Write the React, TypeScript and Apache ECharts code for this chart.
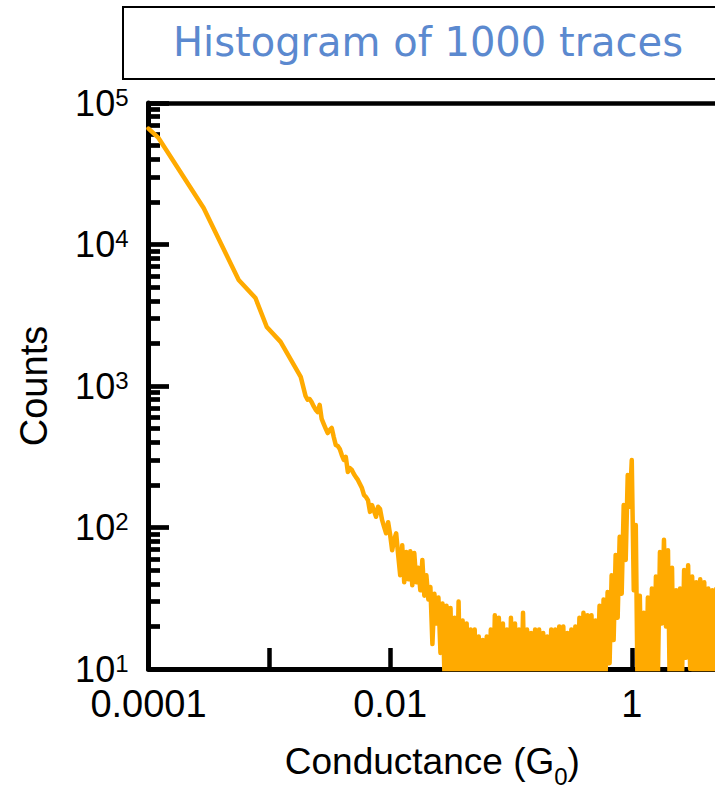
import React, { useEffect, useRef } from 'react';
import * as echarts from 'echarts';

// Smooth high-count part of the conductance histogram (G in units of G0)
const smoothConductance = [1.0e-4, 1.21e-4, 2.86e-4, 5.58e-4, 7.68e-4, 9.53e-4, 1.24e-3, 1.82e-3];
const smoothCounts = [66000, 56600, 18100, 5610, 4190, 2610, 2050, 1160];

// Log-binned part of the histogram: bin i sits at 10^(binStartLog + i / binsPerDecade)
const binStartLog = -2.7;
const binsPerDecade = 60;
const binCounts = [
  850, 800, 810, 770, 720, 680, 655, 735, 585, 540,
  500, 465, 490, 505, 436, 383, 377, 359, 325, 300,
  315, 247, 263, 255, 239, 227, 217, 203, 190, 170,
  164, 156, 129, 144, 131, 119, 140, 135, 113, 101,
  91, 109, 89, 69, 82, 91, 64, 46, 75, 41,
  67, 43, 68, 39, 66, 41, 52, 36, 59, 33,
  46, 31, 38, 15, 34, 21, 32, 13, 29, 9,
  28, 9, 27, 5, 23, 5, 30, 5, 22, 5,
  21, 5, 19, 5, 19, 5, 17, 5, 16, 5,
  17, 5, 19, 5, 24, 5, 23, 5, 21, 5,
  19, 5, 23, 5, 21, 5, 19, 5, 25, 5,
  19, 5, 18, 5, 19, 5, 19, 5, 18, 5,
  17, 5, 19, 5, 19, 5, 20, 5, 20, 5,
  18, 5, 19, 5, 20, 5, 23, 5, 25, 5,
  24, 5, 24, 5, 22, 9, 28, 9, 31, 9,
  35, 11, 46, 16, 64, 23, 86, 34, 144, 59,
  235, 140, 300, 36, 104, 5, 33, 5, 25, 5,
  32, 5, 37, 5, 45, 9, 67, 21, 82, 20,
  69, 5, 52, 5, 36, 5, 37, 9, 50, 12,
  54, 10, 45, 5, 41, 5, 43, 5, 41, 5,
  37, 5, 36, 5, 37, 5, 35, 5,
];

// Axis ranges and tick texts
const xMin = 1e-4;
const xMax = 5;
const yMin = 10;
const yMax = 1e5;
const xLabelDecades = [-4, -2, 0];
const xLabelTexts = ['0.0001', '0.01', '1'];
const yMinorTicks = [
  20, 30, 40, 50, 60, 70, 80, 90,
  200, 300, 400, 500, 600, 700, 800, 900,
  2000, 3000, 4000, 5000, 6000, 7000, 8000, 9000,
  20000, 30000, 40000, 50000, 60000, 70000, 80000, 90000,
];

const titleText = 'Histogram of 1000 traces';
const FONT = '"Liberation Sans", Arial, Helvetica, sans-serif';

export default function App() {
  const ref = useRef<HTMLDivElement>(null);

  useEffect(() => {
    if (!ref.current) return;
    const chart = echarts.init(ref.current, null, { renderer: 'svg' });

    const data: number[][] = [];
    smoothConductance.forEach((g, i) => data.push([g, smoothCounts[i]]));
    binCounts.forEach((c, i) => data.push([Math.pow(10, binStartLog + i / binsPerDecade), c]));

    const option: any = {
      animation: false,
      backgroundColor: '#ffffff',
      graphic: [
        {
          type: 'rect',
          shape: { x: 123, y: 7, width: 610, height: 72 },
          style: { fill: '#ffffff', stroke: '#000000', lineWidth: 2 },
          z: 10,
        },
        {
          type: 'text',
          x: 428,
          y: 42,
          style: {
            text: titleText,
            font: '40px "DejaVu Sans", sans-serif',
            fill: '#5b89cf',
            align: 'center',
            verticalAlign: 'middle',
          },
          z: 11,
        },
      ],
      grid: {
        left: 148.5,
        top: 103,
        width: 567.7,
        height: 566,
        show: false,
        containLabel: false,
        outerBoundsMode: 'none',
      },
      xAxis: [
        {
          type: 'log',
          logBase: 10,
          min: xMin,
          max: xMax,
          position: 'bottom',
          axisLine: { show: true, onZero: false, lineStyle: { color: '#000', width: 5 } },
          axisTick: { show: true, inside: true, length: 21, lineStyle: { color: '#000', width: 4.5 } },
          minorTick: { show: false },
          splitLine: { show: false },
          axisLabel: {
            color: '#000',
            fontFamily: FONT,
            fontSize: 38,
            lineHeight: 20,
            margin: 25,
            formatter: (v: number) => {
              const e = Math.log10(v);
              const r = Math.round(e);
              if (Math.abs(e - r) > 1e-6) return '';
              const k = xLabelDecades.indexOf(r);
              return k >= 0 ? xLabelTexts[k] : '';
            },
          },
          name: '{n|Conductance (G}{s|0}{n|)}',
          nameLocation: 'middle',
          nameGap: 74,
          nameMoveOverlap: false,
          nameTextStyle: {
            color: '#000',
            fontFamily: FONT,
            fontSize: 37,
            rich: {
              n: { fontFamily: FONT, fontSize: 37, lineHeight: 37, color: '#000', verticalAlign: 'top' },
              s: { fontFamily: FONT, fontSize: 24, lineHeight: 24, color: '#000', verticalAlign: 'top', padding: [21, 0, 0, 0] },
            },
          },
        },
        {
          type: 'log',
          logBase: 10,
          min: xMin,
          max: xMax,
          position: 'top',
          axisLine: { show: true, onZero: false, lineStyle: { color: '#000', width: 4.7 } },
          axisTick: { show: false },
          axisLabel: { show: false },
          splitLine: { show: false },
        },
      ],
      yAxis: [
        {
          type: 'log',
          logBase: 10,
          min: yMin,
          max: yMax,
          position: 'left',
          axisLine: { show: true, onZero: false, lineStyle: { color: '#000', width: 5 } },
          axisTick: { show: true, inside: true, length: 20.5, lineStyle: { color: '#000', width: 4.7 } },
          minorTick: { show: false },
          splitLine: { show: false },
          axisLabel: {
            margin: 20,
            color: '#000',
            fontFamily: FONT,
            fontSize: 36,
            formatter: (v: number) => `{b|10}{sup|${Math.round(Math.log10(v))}}`,
            rich: {
              b: { fontFamily: FONT, fontSize: 36, lineHeight: 36, color: '#000', verticalAlign: 'bottom', padding: [13, 0, 0, 0] },
              sup: { fontFamily: FONT, fontSize: 24, lineHeight: 24, color: '#000', verticalAlign: 'top' },
            },
          },
          name: 'Counts',
          nameLocation: 'middle',
          nameRotate: 90,
          nameGap: 96,
          nameMoveOverlap: false,
          nameTextStyle: { color: '#000', fontFamily: FONT, fontSize: 38 },
        },
        {
          // minor ticks at 2..9 x 10^n, placed on a log10 value scale sharing the grid
          type: 'value',
          min: Math.log10(yMin),
          max: Math.log10(yMax),
          position: 'left',
          axisLine: { show: false },
          axisTick: {
            show: true,
            inside: true,
            length: 11.5,
            lineStyle: { color: '#000', width: 4.7 },
            customValues: yMinorTicks.map((v) => Math.log10(v)),
          },
          axisLabel: { show: false },
          splitLine: { show: false },
        },
      ],
      series: [
        {
          type: 'line',
          xAxisIndex: 0,
          yAxisIndex: 0,
          data,
          symbol: 'none',
          showSymbol: false,
          clip: true,
          lineStyle: { color: '#FFAA00', width: 4.5, join: 'round', cap: 'round' },
          z: 2,
        },
      ],
    };

    chart.setOption(option);
    return () => chart.dispose();
  }, []);

  return (
    <div
      style={{
        position: 'absolute',
        left: 0,
        top: 0,
        width: 715,
        height: 789,
        overflow: 'hidden',
        background: '#fff',
      }}
    >
      <div ref={ref} style={{ width: 760, height: 789 }} />
    </div>
  );
}
